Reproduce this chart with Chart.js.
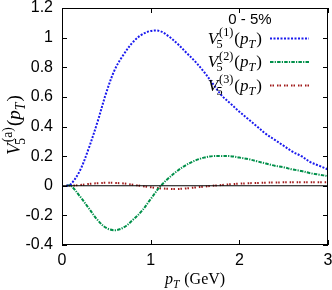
<!DOCTYPE html>
<html><head><meta charset="utf-8">
<script src="https://cdn.jsdelivr.net/npm/chart.js@4"></script>
<style>html,body{margin:0;padding:0;background:#fff;}canvas{display:block}</style>
</head><body>
<canvas id="c" width="332" height="290"></canvas>
<script>
const pT = [0.05,0.1,0.2,0.3,0.4,0.5,0.6,0.7,0.8,0.9,1.0,1.1,1.2,1.3,1.4,1.5,1.6,1.7,1.8,1.9,2.0,2.1,2.2,2.3,2.4,2.5,2.6,2.7,2.8,2.9,3.0];
const v1 = [0,0.01,0.10,0.25,0.43,0.63,0.79,0.89,0.97,1.02,1.045,1.045,1.01,0.96,0.90,0.84,0.77,0.69,0.61,0.555,0.50,0.45,0.40,0.35,0.31,0.27,0.23,0.20,0.16,0.135,0.11];
const v2 = [0,0,-0.07,-0.15,-0.23,-0.285,-0.30,-0.28,-0.23,-0.17,-0.09,-0.01,0.05,0.10,0.14,0.17,0.19,0.20,0.20,0.20,0.19,0.18,0.165,0.15,0.135,0.125,0.11,0.10,0.085,0.075,0.065];
const v3 = [0,0,0.005,0.012,0.017,0.02,0.019,0.015,0.007,-0.002,-0.01,-0.017,-0.021,-0.022,-0.018,-0.012,-0.006,0.0,0.005,0.01,0.014,0.017,0.019,0.021,0.022,0.023,0.023,0.023,0.023,0.023,0.023];
const zeroX = [0,3];
const zeroY = [0,0];
const xTicks = [0,1,2,3];
const xTickLabels = ['0','1','2','3'];
const yTicks = [-0.4,-0.2,0,0.2,0.4,0.6,0.8,1.0,1.2];
const yTickLabels = ['-0.4','-0.2','0','0.2','0.4','0.6','0.8','1','1.2'];
const legendTitle = '0 - 5%';
const seriesSup = ['(1)','(2)','(3)'];
const seriesValues = [v1,v2,v3];
const seriesColors = ['#1a1aee','#00904a','#a01818'];
const seriesDash = [[2,1.5],[3.5,1.2,1.2,1.2],[1.5,1,1.5,3]];

const SERIF = '"Liberation Serif", "DejaVu Serif", serif';
const SANS = '"Liberation Sans", Arial, sans-serif';
function fnt(it, s){ return (it ? 'italic ' : '') + s + 'px ' + SERIF; }
function layoutMath(ctx, x, y, size, tokens, draw){
  let cx = x;
  for (const tk of tokens){
    if (tk.sub !== undefined || tk.sup !== undefined){
      const s = size*0.72; let w = 0;
      if (tk.sub !== undefined){
        ctx.font = fnt(tk.subIt, s);
        const sh = tk.subShift||0; const ww = ctx.measureText(tk.sub).width;
        if (draw) ctx.fillText(tk.sub, cx+sh, y + size*0.25);
        w = Math.max(w, ww+sh);
      }
      if (tk.sup !== undefined){
        ctx.font = fnt(tk.supIt, s);
        const sh = tk.supShift||0; const ww = ctx.measureText(tk.sup).width;
        if (draw) ctx.fillText(tk.sup, cx+sh, y - size*0.42);
        w = Math.max(w, ww+sh);
      }
      cx += w + size*0.06;
    } else {
      ctx.font = fnt(tk.it, size);
      const ww = ctx.measureText(tk.t).width;
      if (draw) ctx.fillText(tk.t, cx, y);
      cx += ww;
    }
  }
  return cx - x;
}
function drawMath(ctx, x, y, size, tokens, align){
  const w = layoutMath(ctx, 0, y, size, tokens, false);
  let sx = x;
  if (align === 'right') sx = x - w; else if (align === 'center') sx = x - w/2;
  layoutMath(ctx, sx, y, size, tokens, true);
}
function vTokens(sup){
  return [{t:'V', it:true},{sub:'5', sup:sup, supIt:false, subShift:-1.5, supShift:1},
          {t:'('},{t:'p', it:true},{sub:'T', subIt:true},{t:')'}];
}

const framePlugin = {
  id:'frame',
  afterDatasetsDraw(chart){
    const {ctx, chartArea:a, scales} = chart;
    ctx.save();
    ctx.strokeStyle = '#000'; ctx.lineWidth = 1;
    ctx.strokeRect(a.left+0.5, a.top+0.5, a.right-a.left-1, a.bottom-a.top-1);
    ctx.beginPath();
    const tl = 5;
    yTicks.forEach(v=>{
      const py = Math.round(scales.y.getPixelForValue(v))+0.5;
      ctx.moveTo(a.left, py); ctx.lineTo(a.left+tl, py);
      ctx.moveTo(a.right, py); ctx.lineTo(a.right-tl, py);
    });
    xTicks.forEach(v=>{
      const px = Math.round(scales.x.getPixelForValue(v))+0.5;
      ctx.moveTo(px, a.bottom); ctx.lineTo(px, a.bottom-tl);
      ctx.moveTo(px, a.top); ctx.lineTo(px, a.top+tl);
    });
    ctx.stroke();

    // legend
    ctx.fillStyle = '#000';
    ctx.font = '15px ' + SANS; ctx.textAlign = 'center'; ctx.textBaseline = 'alphabetic';
    ctx.fillText(legendTitle, 250, 24);
    ctx.textAlign = 'left';
    const rows = [38.5, 62, 85.5];
    rows.forEach((ry, i)=>{
      ctx.fillStyle = '#000';
      drawMath(ctx, 262, ry+5, 17, vTokens(seriesSup[i]), 'right');
      ctx.strokeStyle = seriesColors[i]; ctx.lineWidth = 2; ctx.setLineDash(seriesDash[i]);
      ctx.beginPath(); ctx.moveTo(270, ry); ctx.lineTo(309, ry); ctx.stroke();
      ctx.setLineDash([]);
    });

    // axis titles
    ctx.fillStyle = '#000';
    drawMath(ctx, 195, 284, 16, [{t:'p', it:true},{sub:'T', subIt:true},{t:' (GeV)'}], 'center');
    ctx.save();
    ctx.translate(20, 125); ctx.rotate(-Math.PI/2);
    drawMath(ctx, 0, 0, 19, vTokens('(a)'), 'center');
    ctx.restore();
    ctx.restore();
  }
};

const datasets = [{
  data: zeroX.map((x,i)=>({x:x, y:zeroY[i]})),
  borderColor:'#000', borderWidth:1, pointRadius:0, tension:0
}];
seriesValues.forEach((vals, i)=>{
  datasets.push({
    data: pT.map((x,j)=>({x:x, y:vals[j]})),
    borderColor: seriesColors[i], borderWidth: 2, borderDash: seriesDash[i],
    pointRadius: 0, tension: 0.35, fill:false
  });
});

new Chart(document.getElementById('c'), {
  type:'line',
  data:{datasets},
  options:{
    responsive:false, animation:false, devicePixelRatio:1,
    layout:{padding:{top:8, right:4, left:0, bottom:0}},
    plugins:{legend:{display:false}, tooltip:{enabled:false}},
    scales:{
      x:{type:'linear', min:0, max:3,
        afterBuildTicks(s){ s.ticks = xTicks.map(v=>({value:v})); },
        ticks:{padding:6, color:'#000', font:{family:SANS, size:16}, maxRotation:0,
          callback:(v,i)=>xTickLabels[i]},
        grid:{display:false, drawTicks:false}, border:{display:false},
        afterFit(s){ s.height = 45; s.paddingLeft = 0; s.paddingRight = 0; }},
      y:{type:'linear', min:-0.4, max:1.2,
        afterBuildTicks(s){ s.ticks = yTicks.map(v=>({value:v})); },
        ticks:{padding:9, color:'#000', font:{family:SANS, size:16},
          callback:(v,i)=>yTickLabels[i]},
        grid:{display:false, drawTicks:false}, border:{display:false},
        afterFit(s){ s.width = 62; s.paddingTop = 0; s.paddingBottom = 0; }}
    }
  },
  plugins:[framePlugin]
});
</script>
</body></html>
